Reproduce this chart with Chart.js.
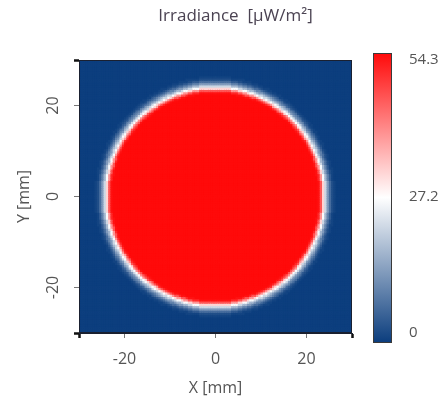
<!DOCTYPE html>
<html><head><meta charset="utf-8">
<script src="https://cdn.jsdelivr.net/npm/chart.js@4.4.1/dist/chart.umd.min.js"></script>
<style>html,body{margin:0;padding:0;background:#fff;} #wrap{width:441px;height:403px;}</style>
</head><body><div id="wrap"><canvas id="c" width="441" height="403"></canvas></div>
<script>
// ---- data ----
const chartTitle = 'Irradiance  [\u00B5W/m\u00B2]';
const xTitle = 'X [mm]';
const yTitle = 'Y [mm]';
const axisMin = -30;
const axisMax = 30;
const axisTicks = [-30, -20, 0, 20, 30];
const labelledTicks = [-20, 0, 20];
const colorbarTicks = [0, 27.2, 54.3];
const irradianceMax = 54.3;
const cellSizeMm = 0.5;
// radial irradiance profile of the disc (ring outer radius in mm -> irradiance)
const ringOuterRadiusMm = [22.75, 23.0, 23.25, 23.5, 23.75, 24.0, 24.25, 24.5, 24.75, 25.0, 25.25, 25.5, 25.75, 26.0, 26.5, 99];
const ringIrradiance    = [54.3, 53.5, 51, 46, 39, 32, 26.5, 21.5, 17, 13, 9.5, 6.5, 4, 2.2, 0.8, 0];
// colour map
const colorStopsAt = [0, 0.5, 1];
const colorStopsRgb = [[12, 62, 126], [255, 255, 255], [255, 10, 10]];

const FONT = 'Open Sans';

function colorFor(v) {
  const t = Math.max(0, Math.min(1, v / irradianceMax));
  const i = t <= colorStopsAt[1] ? 0 : 1;
  const f = (t - colorStopsAt[i]) / (colorStopsAt[i + 1] - colorStopsAt[i]);
  const a = colorStopsRgb[i], b = colorStopsRgb[i + 1];
  const c = a.map((ch, k) => Math.round(ch + (b[k] - ch) * f));
  return 'rgb(' + c.join(',') + ')';
}

const cells = [];
const cellColors = [];
const nCells = Math.round((axisMax - axisMin) / cellSizeMm);
for (let i = 0; i < nCells; i++) {
  for (let j = 0; j < nCells; j++) {
    const x = axisMin + (i + 0.5) * cellSizeMm;
    const y = axisMin + (j + 0.5) * cellSizeMm;
    const r = Math.hypot(x, y);
    const v = ringIrradiance[ringOuterRadiusMm.findIndex(R => r <= R)];
    cells.push({ x: x, y: y, v: v });
    cellColors.push(colorFor(v));
  }
}

const isEnd = v => v === axisMin || v === axisMax;

const framePlugin = {
  id: 'frame',
  afterLayout(chart) {
    if (chart.titleBlock) { chart.titleBlock.left += 15; chart.titleBlock.right += 15; }
  },
  afterDatasetsDraw(chart) {
    const { ctx, chartArea: a } = chart;
    ctx.save();
    ctx.strokeStyle = '#1a2030';
    ctx.lineWidth = 1;
    ctx.strokeRect(Math.round(a.left) + 0.5, Math.round(a.top) + 0.5, Math.round(a.right - a.left) - 1, Math.round(a.bottom - a.top) - 1);
    ctx.restore();
  },
  afterDraw(chart) {
    const { ctx, chartArea: a } = chart;
    const s = chart.scales.cb;
    const top = s.getPixelForValue(irradianceMax) - 7;
    const bottom = s.getPixelForValue(0) + 9;
    const left = a.right + 21;
    const w = 18;
    const g = ctx.createLinearGradient(0, bottom, 0, top);
    colorStopsAt.forEach((p, k) => g.addColorStop(p, 'rgb(' + colorStopsRgb[k].join(',') + ')'));
    ctx.save();
    ctx.fillStyle = g;
    ctx.fillRect(left, top, w, bottom - top);
    ctx.strokeStyle = '#3a3a3a';
    ctx.lineWidth = 1;
    ctx.strokeRect(Math.round(left) + 0.5, Math.round(top) + 0.5, w, Math.round(bottom - top));
    ctx.restore();
  }
};

const tickFont = { family: FONT, size: 16 };
const cbFont = { family: FONT, size: 15 };
const tickColor = '#555555';

new Chart(document.getElementById('c'), {
  type: 'scatter',
  data: {
    datasets: [{
      data: cells,
      pointStyle: 'rect',
      backgroundColor: cellColors,
      borderWidth: 0,
      clip: 0,
      pointRadius: ctx => {
        const sx = ctx.chart.scales.x;
        const side = Math.abs(sx.getPixelForValue(cellSizeMm) - sx.getPixelForValue(0));
        return (side + 0.8) / (2 * Math.SQRT1_2);
      }
    }]
  },
  options: {
    responsive: false,
    animation: false,
    devicePixelRatio: 1,
    events: [],
    layout: { padding: 0 },
    plugins: {
      legend: { display: false },
      tooltip: { enabled: false },
      title: {
        display: true, text: chartTitle, color: '#4b4352',
        font: { family: FONT, size: 17, weight: 'normal' },
        padding: { top: 6, bottom: 33.6 }
      }
    },
    scales: {
      x: {
        type: 'linear', min: axisMin, max: axisMax,
        afterBuildTicks: s => { s.ticks = axisTicks.map(v => ({ value: v })); },
        afterFit: s => { s.height = 70; s.paddingLeft = 0; s.paddingRight = 0; },
        ticks: {
          autoSkip: false, maxRotation: 0, padding: 12, color: tickColor, font: tickFont,
          callback: v => labelledTicks.includes(v) ? String(v) : ''
        },
        grid: {
          drawOnChartArea: false, drawTicks: true, tickLength: 5,
          tickColor: c => isEnd(c.tick && c.tick.value) ? '#111' : '#777',
          tickWidth: c => isEnd(c.tick && c.tick.value) ? 2.5 : 1
        },
        border: { display: true, color: '#1a2030' },
        title: { display: true, text: xTitle, color: tickColor, font: tickFont, padding: { top: 0, bottom: 5 } }
      },
      y: {
        type: 'linear', position: 'left', min: axisMin, max: axisMax,
        afterBuildTicks: s => { s.ticks = axisTicks.map(v => ({ value: v })); },
        afterFit: s => { s.width = 79; s.paddingTop = 0; s.paddingBottom = 0; },
        ticks: {
          autoSkip: false, minRotation: 90, maxRotation: 90, crossAlign: 'center', padding: 8.5,
          color: tickColor, font: tickFont,
          callback: v => labelledTicks.includes(v) ? String(v) : ''
        },
        grid: {
          drawOnChartArea: false, drawTicks: true, tickLength: 5,
          tickColor: c => isEnd(c.tick && c.tick.value) ? '#111' : '#777',
          tickWidth: c => isEnd(c.tick && c.tick.value) ? 2.5 : 1
        },
        border: { display: true, color: '#1a2030' },
        title: { display: true, text: yTitle, color: tickColor, font: tickFont, padding: { top: 15, bottom: 0 } }
      },
      cb: {
        type: 'linear', position: 'right', min: 0, max: irradianceMax,
        afterBuildTicks: s => { s.ticks = colorbarTicks.map(v => ({ value: v })); },
        afterFit: s => { s.width = 89; s.paddingTop = 0; s.paddingBottom = 0; },
        ticks: { autoSkip: false, padding: 57, color: tickColor, font: cbFont, callback: v => String(v) },
        grid: { display: false, drawTicks: false },
        border: { display: false }
      }
    }
  },
  plugins: [framePlugin]
});
</script>
</body></html>
